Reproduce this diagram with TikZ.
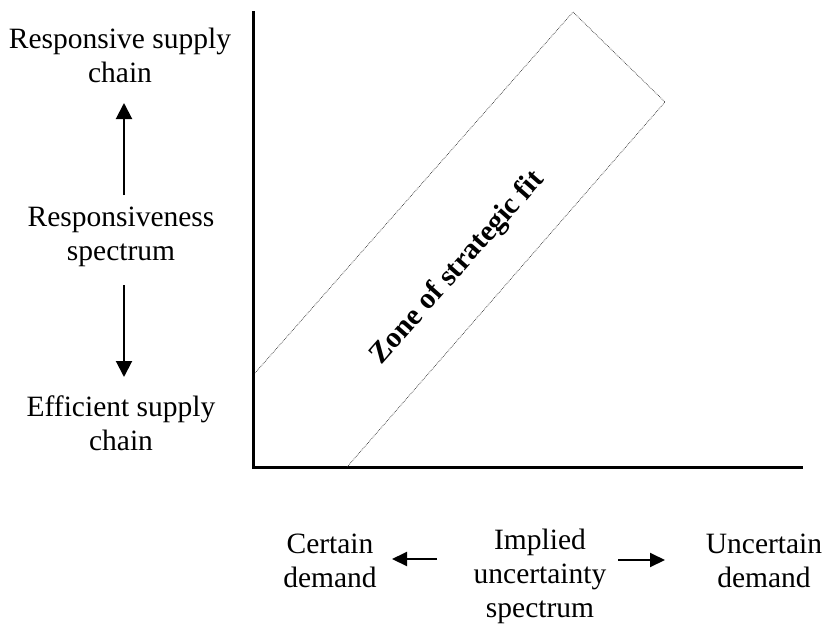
\documentclass[tikz,border=0pt]{standalone}
\usepackage{fontspec}
\setmainfont{Liberation Serif}
\usetikzlibrary{arrows.meta}
\tikzset{
  lbl/.style={align=center, inner sep=0pt, font=\fontsize{29.5}{34}\selectfont},
  axisline/.style={line width=3pt, line cap=rect},
  spectrumarrow/.style={line width=2pt, -{Triangle[width=16pt,length=16pt]}},
  zoneline/.style={line width=0.7pt, densely dotted, black!80},
}
\begin{document}
\begin{tikzpicture}[x=1pt,y=-1pt]
  \useasboundingbox (0,0) rectangle (825,624);

  % axes
  \coordinate (origin) at (253,467);
  \coordinate (ytop) at (253,12);
  \coordinate (xend) at (801,467);
  \draw[axisline] (ytop) -- (origin) -- (xend);

  % zone of strategic fit band
  \coordinate (zA) at (255,373);
  \coordinate (zB) at (573,12);
  \coordinate (zC) at (665,102);
  \coordinate (zD) at (347,467);
  \draw[zoneline] (zA) -- (zB) -- (zC) -- (zD);
  \node[lbl, font=\fontsize{29.5}{34}\selectfont\bfseries, rotate=48.6] (zone) at (458,268) {Zone of strategic fit};

  % responsiveness spectrum (vertical)
  \node[lbl] (resp) at (120,55) {Responsive supply\\chain};
  \node[lbl] (rspec) at (121,237) {Responsiveness\\spectrum};
  \node[lbl] (eff) at (121,423) {Efficient supply\\chain};
  \coordinate (upS) at (124,195);
  \coordinate (upE) at (124,103);
  \coordinate (dnS) at (124,285);
  \coordinate (dnE) at (124,377);
  \draw[spectrumarrow] (upS) -- (upE);
  \draw[spectrumarrow] (dnS) -- (dnE);

  % implied uncertainty spectrum (horizontal)
  \node[lbl] (cert) at (330,561) {Certain\\demand};
  \node[lbl] (impl) at (540,576) {Implied\\uncertainty\\spectrum};
  \node[lbl] (unc) at (764,561) {Uncertain\\demand};
  \coordinate (lS) at (437,559);
  \coordinate (lE) at (392,559);
  \coordinate (rS) at (618,560);
  \coordinate (rE) at (665,560);
  \draw[spectrumarrow, -{Triangle[width=14pt,length=15pt]}] (lS) -- (lE);
  \draw[spectrumarrow, -{Triangle[width=14pt,length=15pt]}] (rS) -- (rE);
\end{tikzpicture}
\end{document}
